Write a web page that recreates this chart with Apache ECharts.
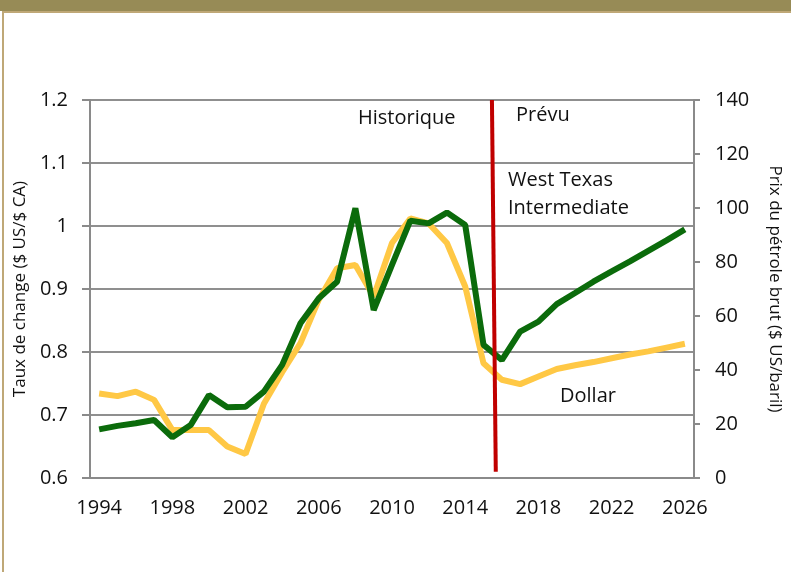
<!DOCTYPE html>
<html>
<head>
<meta charset="utf-8">
<script src="https://cdn.jsdelivr.net/npm/echarts@6/dist/echarts.min.js"></script>
<style>
  html, body { margin: 0; padding: 0; background: #fff; }
  #chart { width: 791px; height: 572px; }
</style>
</head>
<body>
<div id="chart"></div>
<script>
// years on the category axis
const years = ["1994", "1995", "1996", "1997", "1998", "1999", "2000", "2001", "2002", "2003",
  "2004", "2005", "2006", "2007", "2008", "2009", "2010", "2011", "2012", "2013",
  "2014", "2015", "2016", "2017", "2018", "2019", "2020", "2021", "2022", "2023",
  "2024", "2025", "2026"];

// exchange rate, $ US / $ CA (left axis)
const dollar = [0.734, 0.730, 0.737, 0.724, 0.676, 0.676, 0.676, 0.650, 0.638, 0.718,
  0.768, 0.814, 0.883, 0.933, 0.938, 0.888, 0.973, 1.012, 1.004, 0.973,
  0.904, 0.782, 0.756, 0.749, 0.761, 0.773, 0.779, 0.784, 0.790, 0.796,
  0.801, 0.807, 0.813];

// WTI crude price, $ US / baril (right axis)
const wti = [18.0, 19.3, 20.3, 21.5, 15.1, 19.6, 30.7, 26.2, 26.4, 32.0,
  41.9, 57.3, 66.6, 72.7, 99.9, 62.2, 78.9, 95.3, 94.3, 98.3,
  93.7, 49.3, 43.7, 54.2, 57.9, 64.4, 68.5, 72.7, 76.5, 80.2,
  84.1, 88.0, 92.1];

// historical / forecast divider (year position, rate level)
const dividerYears = [2015.46, 2015.67];
const dividerLevels = [1.2, 0.61];

const font = "'Open Sans', sans-serif";

const chart = echarts.init(document.getElementById("chart"));
chart.setOption({
  animation: false,
  textStyle: { fontFamily: font },
  grid: { left: 90, right: 97, top: 100, bottom: 94 },
  xAxis: [
    {
      type: "category",
      data: years,
      boundaryGap: true,
      axisLine: { lineStyle: { color: "#8a8a8a", width: 2 } },
      axisTick: { interval: 0, length: 6, lineStyle: { color: "#8a8a8a", width: 2 } },
      axisLabel: { interval: 3, color: "#111", fontSize: 20, fontFamily: font, margin: 20 }
    },
    { type: "value", min: 1993.5, max: 2026.5, show: false }
  ],
  yAxis: [
    {
      type: "value",
      min: 0.6, max: 1.2, interval: 0.1,
      name: "Taux de change ($ US/$ CA)",
      nameLocation: "middle",
      nameGap: 60,
      nameTextStyle: { fontSize: 17, color: "#111", fontFamily: font },
      axisLine: { show: true, lineStyle: { color: "#8a8a8a", width: 2 } },
      axisTick: { show: true, length: 8, lineStyle: { color: "#8a8a8a", width: 2 } },
      axisLabel: {
        color: "#111", fontSize: 20, fontFamily: font, margin: 22,
        formatter: v => String(parseFloat(v.toFixed(1)))
      },
      splitLine: { lineStyle: { color: "#8f8f8f", width: 2 } }
    },
    {
      type: "value",
      min: 0, max: 140, interval: 20,
      position: "right",
      name: "Prix du pétrole brut ($ US/baril)",
      nameLocation: "middle",
      nameRotate: -90,
      nameGap: 72,
      nameTextStyle: { fontSize: 17, color: "#111", fontFamily: font },
      axisLine: { show: true, lineStyle: { color: "#8a8a8a", width: 2 } },
      axisTick: { show: true, length: 6, lineStyle: { color: "#8a8a8a", width: 2 } },
      axisLabel: { color: "#111", fontSize: 20, fontFamily: font, margin: 21 },
      splitLine: { show: false }
    }
  ],
  series: [
    {
      name: "Dollar",
      type: "line",
      data: dollar,
      yAxisIndex: 0,
      showSymbol: false,
      lineStyle: { color: "#FFC845", width: 6 },
      z: 3
    },
    {
      name: "West Texas Intermediate",
      type: "line",
      data: wti,
      yAxisIndex: 1,
      showSymbol: false,
      lineStyle: { color: "#0B6B0B", width: 6 },
      z: 4
    },
    {
      name: "divider",
      type: "line",
      xAxisIndex: 1,
      yAxisIndex: 0,
      data: dividerYears.map((y, i) => [y, dividerLevels[i]]),
      showSymbol: false,
      lineStyle: { color: "#C00000", width: 4 },
      z: 5
    }
  ],
  graphic: [
    { type: "rect", shape: { x: 0, y: 0, width: 791, height: 11 }, style: { fill: "#978B56" } },
    { type: "rect", shape: { x: 2, y: 11, width: 789, height: 2 }, style: { fill: "#BFA877" } },
    { type: "rect", shape: { x: 2, y: 11, width: 2, height: 561 }, style: { fill: "#BFA877" } },
    { type: "text", left: 358, top: 108, style: { text: "Historique", font: "20px " + font, fill: "#111" } },
    { type: "text", left: 516, top: 105, style: { text: "Prévu", font: "20px " + font, fill: "#111" } },
    { type: "text", left: 508, top: 166, style: { text: "West Texas\nIntermediate", font: "20px " + font, fill: "#111", lineHeight: 28 } },
    { type: "text", left: 560, top: 386, style: { text: "Dollar", font: "20px " + font, fill: "#111" } }
  ]
});
</script>
</body>
</html>
